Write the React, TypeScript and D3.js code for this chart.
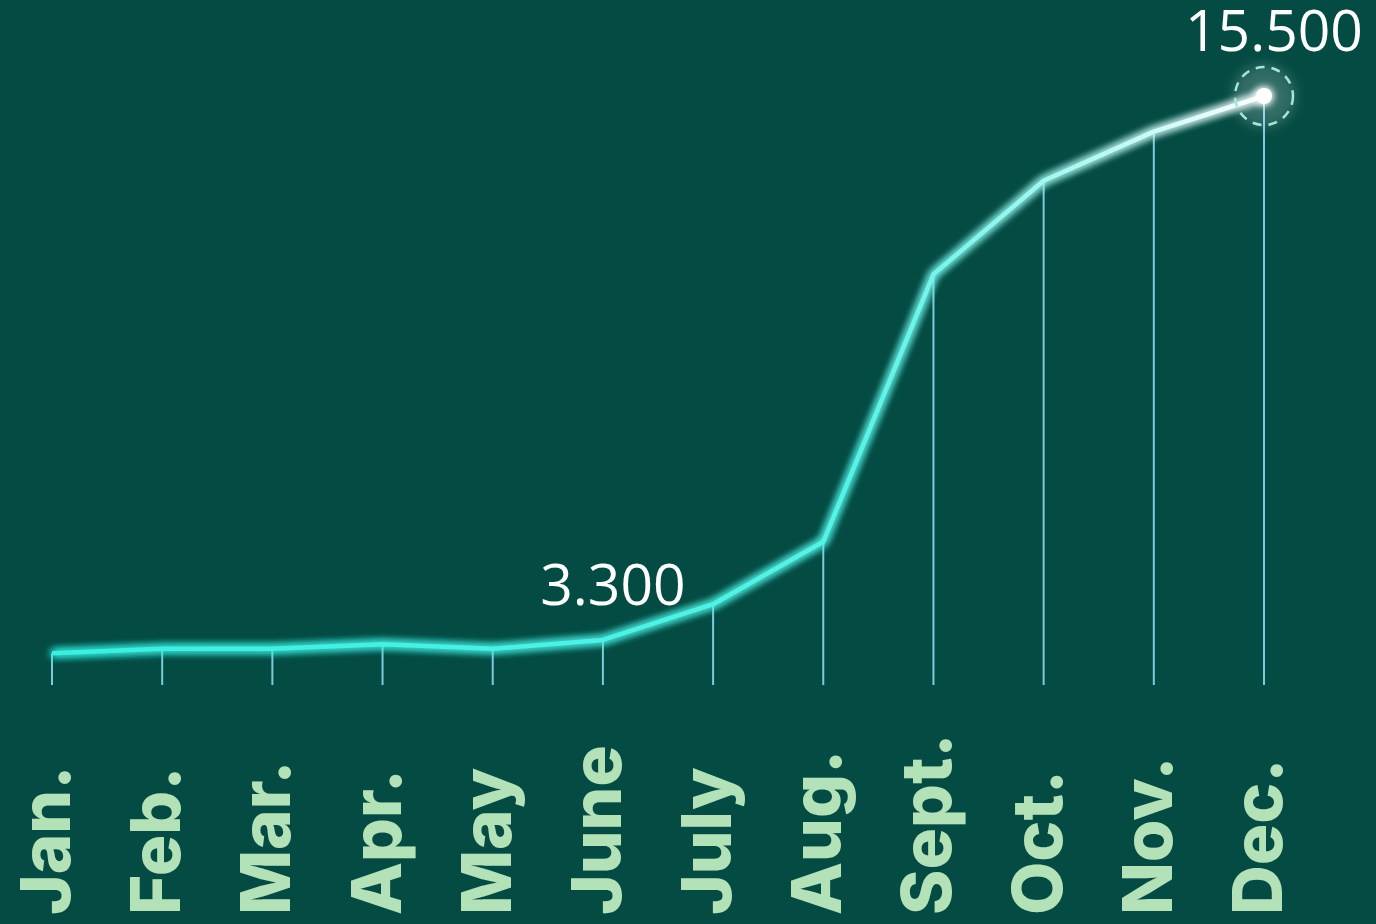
import React from 'react'
import * as d3 from 'd3'

const months = ['Jan.', 'Feb.', 'Mar.', 'Apr.', 'May', 'June', 'July', 'Aug.', 'Sept.', 'Oct.', 'Nov.', 'Dec.']
const values = [3000, 3100, 3100, 3200, 3100, 3300, 4100, 5500, 11500, 13600, 14700, 15500]
const callouts = [
  { month: 'June', label: '3.300' },
  { month: 'Dec.', label: '15.500' },
]

const W = 1376
const H = 924
const bg = '#044b43'
const baseY = 685

export default function App() {
  const x = d3.scalePoint<string>().domain(months).range([52, 1264])
  const y = d3.scaleLinear().domain([0, 15500]).range([787, 96])

  const pts: [number, number][] = months.map((m, i) => [x(m) as number, y(values[i])])
  const line = d3.line()(pts) as string
  const last = pts[pts.length - 1]

  return (
    <svg width={W} height={H} style={{ position: 'absolute', left: 0, top: 0, display: 'block' }}>
      <defs>
        <linearGradient id="lineGrad" gradientUnits="userSpaceOnUse" x1={0} y1={0} x2={W} y2={0}>
          <stop offset="0" stopColor="#35f0e2" />
          <stop offset="0.62" stopColor="#55f3e6" />
          <stop offset="0.93" stopColor="#ffffff" />
        </linearGradient>
        <filter id="glow" x="-10%" y="-10%" width="120%" height="120%">
          <feGaussianBlur stdDeviation="4.5" result="b" />
          <feMerge>
            <feMergeNode in="b" />
            <feMergeNode in="b" />
            <feMergeNode in="b" />
            <feMergeNode in="SourceGraphic" />
          </feMerge>
        </filter>
        <filter id="dotGlow" x="-200%" y="-200%" width="500%" height="500%">
          <feGaussianBlur stdDeviation="4" result="b" />
          <feMerge>
            <feMergeNode in="b" />
            <feMergeNode in="b" />
            <feMergeNode in="SourceGraphic" />
          </feMerge>
        </filter>
        <filter id="halo" x="-100%" y="-100%" width="300%" height="300%">
          <feGaussianBlur stdDeviation="6" />
        </filter>
      </defs>
      <rect width={W} height={H} fill={bg} />

      {/* drop lines */}
      {pts.map(([px, py], i) => (
        <line key={i} x1={px} x2={px} y1={py} y2={baseY} stroke="#7ccadb" strokeWidth={2} />
      ))}

      {/* glowing line */}
      <path d={line} fill="none" stroke="url(#lineGrad)" strokeWidth={4.5} strokeLinejoin="round" filter="url(#glow)" />

      {/* last point marker */}
      <circle cx={last[0]} cy={last[1]} r={32} fill="#ffffff" opacity={0.18} filter="url(#halo)" />
      <circle cx={last[0]} cy={last[1]} r={29} fill="none" stroke="#a3e6da" strokeWidth={2.5} strokeDasharray="9 7" />
      <circle cx={last[0]} cy={last[1]} r={8} fill="#ffffff" filter="url(#dotGlow)" />

      {/* value callouts */}
      {callouts.map((c) => (
        <text
          key={c.month}
          x={(x(c.month) as number) + 10}
          y={c.month === 'Dec.' ? 51 : 605}
          textAnchor="middle"
          fill="#ffffff"
          fontFamily="'Open Sans', sans-serif"
          fontSize={57}
          fontWeight={400}
        >
          {c.label}
        </text>
      ))}

      {/* month labels */}
      {months.map((m) => (
        <text
          key={m}
          transform={`translate(${(x(m) as number) + 18},915) rotate(-90)`}
          fill="#b3e2b8"
          fontFamily="Inter, sans-serif"
          fontWeight={800}
          fontSize={69}
        >
          {m}
        </text>
      ))}
    </svg>
  )
}
